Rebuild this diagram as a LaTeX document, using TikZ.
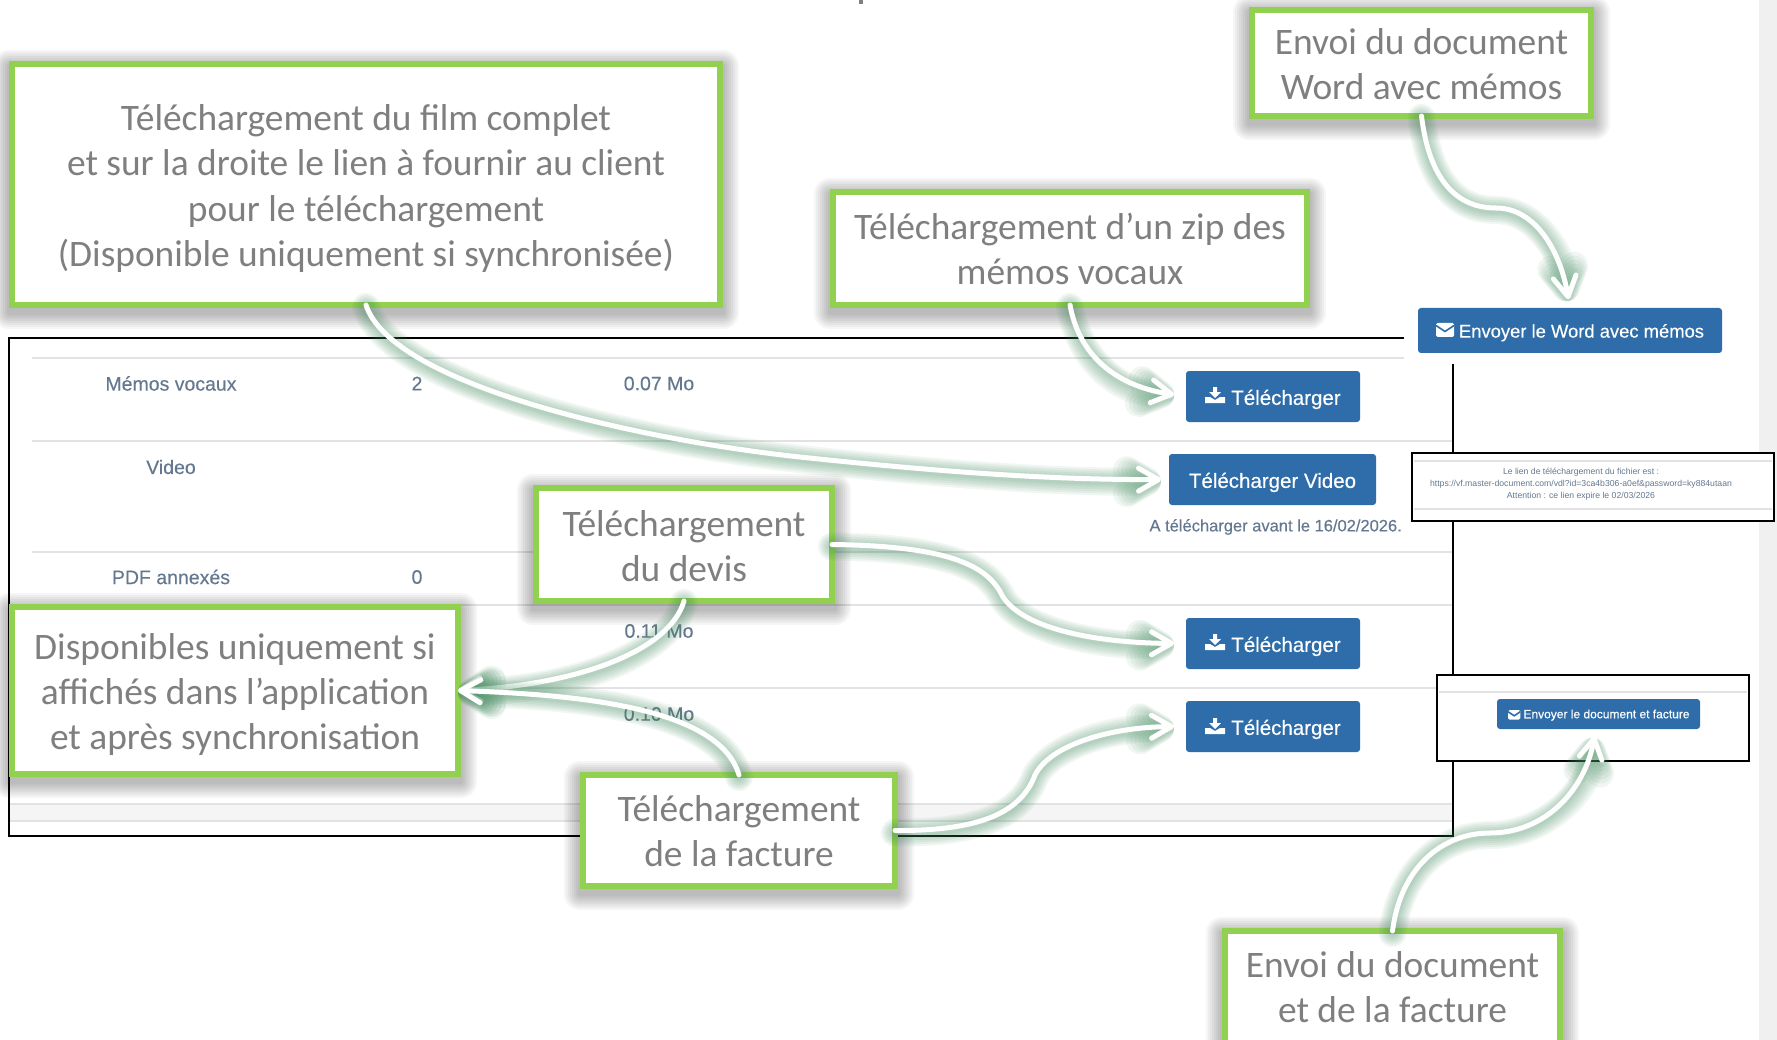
\documentclass[tikz,border=0pt]{standalone}
\usepackage{fontspec}
\setmainfont{Carlito}
\newfontfamily\uifont[FakeBold=0.3]{Liberation Sans}
\newfontfamily\uilight{Liberation Sans}
\usetikzlibrary{arrows.meta}
\definecolor{calloutgreen}{HTML}{92D050}
\definecolor{calloutgray}{HTML}{7F7F7F}
\definecolor{btnblue}{HTML}{2E6DA9}
\definecolor{tabletext}{HTML}{64788F}
\definecolor{rowline}{HTML}{E2E2E4}
\definecolor{glowgreen}{HTML}{3F8A5C}
\tikzset{
  callout/.style={draw=calloutgreen,line width=6pt,fill=white,inner sep=0pt,outer sep=0pt,align=center,
    text=calloutgray,font=\fontsize{37.4}{45.2}\selectfont},
  shadowlayer/.style={fill=black,opacity=.036},
  framebox/.style={draw=black,line width=2pt,fill=white},
  framerule/.style={draw=black,line width=2pt},
  rowrule/.style={draw=rowline,line width=1.6pt},
  celltext/.style={text=tabletext,inner sep=0pt,font=\uifont\fontsize{19.5}{22}\selectfont},
  btn/.style={fill=btnblue,rounded corners=3pt,text=white,inner sep=0pt,outer sep=0pt,align=center},
  glow/.style={draw=glowgreen,opacity=.075,line cap=round,transform canvas={yshift=-2pt},
    -{Straight Barb[length=20pt,width=23pt,round]}},
  linkline/.style={draw=white,line width=5pt,line cap=round,
    -{Straight Barb[length=20pt,width=23pt,line width=5pt,round]}},
}
\newcommand\cbox[7]{%
  \foreach \d in {2,4,...,16}{\fill[shadowlayer,rounded corners=\d pt] ({#2-\d},{#3-\d+5}) rectangle ({#4+\d},{#5+\d+5});}
  \node[callout,minimum width={#4-#2-6},minimum height={#5-#3-6}] (#1) at ({(#2+#4)/2},{(#3+#5)/2}) {\rule{0pt}{#6pt}#7};}
\newcommand\bbtn[6]{%
  \node[btn,minimum width={#4-#2},minimum height={#5-#3}] (#1) at ({(#2+#4)/2},{(#3+#5)/2}) {#6};}
\newcommand\linkpath[2][]{%
  \foreach \w in {28,24,20,16,12,8}{\draw[glow,line width=\w pt,#1] #2;}
  \draw[linkline,#1] #2;}
\newcommand\dlicon[2]{%
  \begin{scope}[shift={(#1,#2)}]
    \fill[white] (8,0) -- (12,0) -- (12,5) -- (16,5) -- (10,11) -- (4,5) -- (8,5) -- cycle;
    \fill[white] (0,16) -- (0,10) -- (5,10) -- (10,13) -- (15,10) -- (20,10) -- (20,16) -- cycle;
  \end{scope}}
\newcommand\envicon[3]{%
  \begin{scope}[shift={(#1,#2)},scale=#3]
    \fill[white,rounded corners=1.5pt] (0,0) rectangle (18,14);
    \draw[btnblue,line width=1.6pt] (0,2.5) -- (9,8.5) -- (18,2.5);
  \end{scope}}
\begin{document}
\begin{tikzpicture}[x=1pt,y=-1pt]
\useasboundingbox (0,0) rectangle (1777,1040);
\fill[white] (0,0) rectangle (1777,1040);
\fill[black!6] (1759,0) rectangle (1777,1040);
\fill[calloutgray] (859,0) rectangle (863,4);
% table
\fill[black!4] (10,804) rectangle (1452,821);
\draw[rowrule] (10,804) -- (1452,804);
\draw[rowrule] (10,821) -- (1452,821);
\draw[rowrule] (32,358) -- (1404,358);
\draw[rowrule] (32,441) -- (1453,441);
\draw[rowrule] (32,552) -- (1453,552);
\draw[rowrule] (32,605) -- (1453,605);
\draw[rowrule] (32,688) -- (1453,688);
\draw[framerule] (1404,338) -- (9,338) -- (9,836) -- (1453,836) -- (1453,364);
\node[celltext] (c1) at (171,383.5) {Mémos vocaux};
\node[celltext] (c2) at (417,383.5) {2};
\node[celltext] (c3) at (659,383.5) {0.07 Mo};
\node[celltext] (c4) at (171,467) {Video};
\node[celltext] (c5) at (171,577) {PDF annexés};
\node[celltext] (c6) at (417,577) {0};
\node[celltext] (c7) at (659,631) {0.11 Mo};
\node[celltext] (c8) at (659,714) {0.10 Mo};
\node[celltext,anchor=east,font=\uifont\fontsize{16.5}{20}\selectfont] (c9) at (1402,527) {A télécharger avant le 16/02/2026.};
% buttons
\bbtn{dl1}{1186}{371}{1360}{422}{\uifont\fontsize{20.5}{24}\selectfont\rule{0pt}{21pt}\hspace*{26pt}Télécharger}
\dlicon{1205}{387}
\bbtn{vid}{1169}{454}{1376}{505}{\uifont\fontsize{20.5}{24}\selectfont\rule{0pt}{21pt}Télécharger Video}
\bbtn{dl2}{1186}{618}{1360}{669}{\uifont\fontsize{20.5}{24}\selectfont\rule{0pt}{21pt}\hspace*{26pt}Télécharger}
\dlicon{1205}{634}
\bbtn{dl3}{1186}{701}{1360}{752}{\uifont\fontsize{20.5}{24}\selectfont\rule{0pt}{21pt}\hspace*{26pt}Télécharger}
\dlicon{1205}{718}
\bbtn{word}{1418}{308}{1722}{353}{\uifont\fontsize{18.4}{22}\selectfont\rule{0pt}{18pt}\hspace*{23pt}Envoyer le Word avec mémos}
\envicon{1436}{323}{1}
% link box
\draw[framebox] (1412,453) rectangle (1774,521);
\draw[rowrule] (1414,461) -- (1772,461);
\draw[rowrule] (1414,509) -- (1772,509);
\node[text=tabletext,inner sep=0pt,align=center,font=\uilight\fontsize{8.66}{12}\selectfont] (lnk) at (1581,484.5)
  {Le lien de téléchargement du fichier est :\\https://vf.master-document.com/vdl?id=3ca4b306-a0ef\&password=ky884utaan\\Attention : ce lien expire le 02/03/2026};
% facture frame
\draw[framebox] (1437,675) rectangle (1749,761);
\draw[rowrule] (1439,692) -- (1747,692);
\bbtn{envf}{1497}{699}{1700}{729}{\uifont\fontsize{12}{14}\selectfont\rule{0pt}{11pt}\hspace*{16pt}Envoyer le document et facture}
\envicon{1508}{710}{.68}
% callouts
\cbox{film}{9}{61}{723}{308}{34}{Téléchargement du film complet\\et sur la droite le lien à fournir au client\\pour le téléchargement\\(Disponible uniquement si synchronisée)}
\cbox{zip}{830}{189}{1310}{308}{28}{Téléchargement d’un zip des\\mémos vocaux}
\cbox{wdoc}{1249}{7}{1594}{119}{28}{Envoi du document\\Word avec mémos}
\cbox{devis}{533}{485}{835}{604}{30}{Téléchargement\\du devis}
\cbox{dispo}{9}{604}{461}{777}{34}{Disponibles uniquement si\\affichés dans l’application\\et après synchronisation}
\cbox{fact}{580}{772}{898}{889}{28}{Téléchargement\\de la facture}
\cbox{fdoc}{1222}{928}{1563}{1046}{27}{Envoi du document\\et de la facture}
% connectors
\linkpath[shorten >=8pt]{(film.south) .. controls (392,385) and (640,440) .. (800,457) .. controls (950,473) and (1060,480) .. (vid.west)}
\linkpath[shorten >=12pt]{(zip.south) .. controls (1078,350) and (1110,385) .. (dl1.west)}
\linkpath[shorten >=9pt]{(wdoc.south) .. controls (1428,170) and (1450,208) .. (1496,208) .. controls (1535,208) and (1560,250) .. (word.north)}
\linkpath[shorten >=12pt]{(devis.east) .. controls (960,546) and (990,570) .. (1003,597) .. controls (1025,630) and (1100,643) .. (dl2.west)}
\linkpath[shorten >=12pt]{(fact.east) .. controls (975,831) and (1020,815) .. (1035,775) .. controls (1050,745) and (1110,727) .. (dl3.west)}
\linkpath{(devis.south) .. controls (670,650) and (580,685) .. (dispo.east)}
\linkpath{(fact.north) .. controls (720,710) and (590,695) .. (dispo.east)}
\linkpath{(fdoc.north) .. controls (1400,870) and (1440,833) .. (1490,833) .. controls (1545,833) and (1585,790) .. ([xshift=-4pt,yshift=-7pt]envf.south)}
\end{tikzpicture}
\end{document}
